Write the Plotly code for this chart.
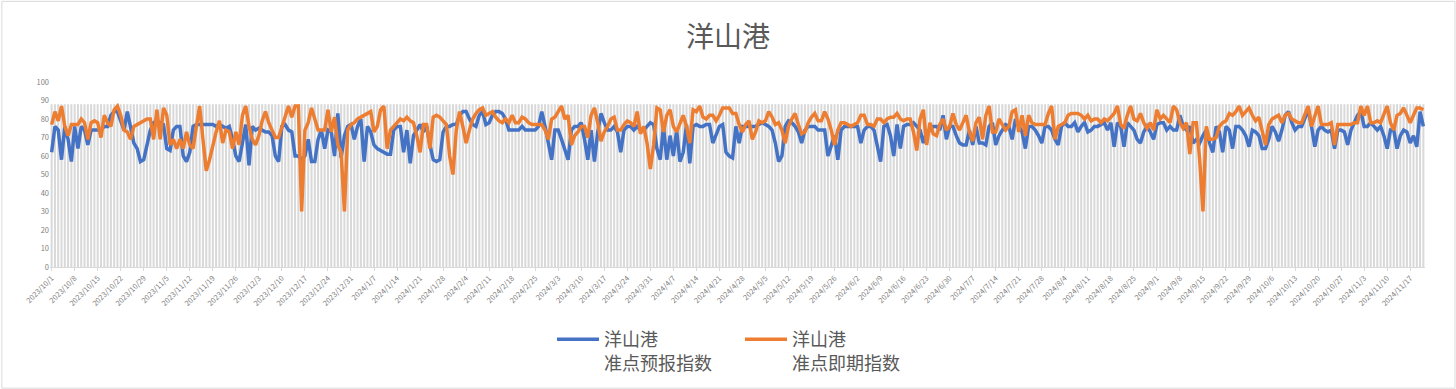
import pandas as pd
import plotly.graph_objects as go

# ---- data (daily, starting 2023/10/1) ----
forecast = [
    62,76,74,58,76,69,57,76,64,76,74,66,74,74,74,74,76,76,82,84,84,79,74,84,76,67,64,57,58,66,
    74,78,79,78,77,64,63,74,76,76,60,57,62,76,77,77,77,77,77,77,76,77,76,75,76,69,60,57,67,77,
    55,76,74,75,74,73,73,71,60,57,76,77,74,73,60,60,58,60,69,57,57,69,
    74,64,74,73,60,83,59,71,76,77,69,76,80,57,76,73,66,64,63,62,61,61,74,76,76,62,74,56,71,74,
    77,73,76,66,58,57,58,73,76,76,77,77,82,84,84,80,77,76,82,84,77,78,82,84,84,83,80,74,74,74,
    74,76,74,74,74,74,76,84,76,66,58,74,74,69,63,58,74,76,76,78,69,58,74,
    57,73,83,78,74,74,76,73,62,74,76,76,74,76,74,74,76,78,77,64,58,76,58,71,60,74,57,62,77,56,
    76,77,76,76,77,77,67,71,76,77,62,60,59,76,67,76,76,76,76,76,77,78,77,76,74,67,57,60,76,79,
    78,76,73,67,74,76,76,76,74,74,74,60,66,71,58,74,76,76,76,76,76,67,74,76,76,74,
    66,57,76,77,71,60,77,64,76,77,77,78,76,74,67,73,74,76,76,74,82,69,76,76,71,67,66,66,74,66,
    76,67,67,66,76,78,66,71,74,77,76,69,80,76,73,64,76,76,74,71,67,76,76,74,69,66,76,78,76,76,
    78,73,76,78,73,74,76,76,77,78,74,78,65,78,76,65,78,76,74,69,67,73,76,
    73,69,77,78,78,74,76,74,74,82,76,74,76,67,69,67,71,74,67,62,76,73,62,76,74,64,76,76,74,71,
    65,74,73,71,64,64,69,76,73,68,74,82,84,78,74,76,76,80,85,76,65,74,76,74,73,74,64,74,74,73,
    66,74,78,82,84,76,76,78,76,74,76,71,64,74,74,64,71,74,73,67,71,65,84,76,
]
realtime = [
    77,84,79,87,76,71,77,77,77,80,78,69,78,79,78,70,82,78,76,85,87,82,74,73,69,76,77,78,79,80,
    80,69,85,69,86,82,66,69,64,69,64,73,66,64,76,87,69,52,58,66,73,79,67,74,73,64,73,66,82,87,
    76,69,66,71,79,84,78,74,70,70,76,82,87,81,87,87,30,74,78,86,80,74,
    74,74,85,73,81,66,62,30,74,77,78,80,81,82,83,84,73,76,85,87,64,74,76,78,80,79,81,79,78,71,
    62,77,77,64,81,82,81,79,77,60,50,74,84,76,67,74,80,83,85,86,82,83,84,81,79,78,80,78,82,78,
    78,81,80,78,77,77,77,77,74,69,80,81,84,87,80,82,66,71,73,76,76,70,82,
    86,78,68,73,76,80,81,74,74,77,79,78,76,84,72,76,67,53,66,86,85,73,82,85,76,73,78,82,76,67,
    85,84,87,81,80,82,82,79,82,86,86,86,83,83,77,73,77,79,69,73,79,78,79,84,81,77,78,74,67,76,
    80,83,77,72,73,78,81,83,79,79,84,80,74,66,74,78,78,77,76,77,78,82,82,77,77,76,
    80,80,78,80,81,81,83,80,79,80,80,73,63,80,85,66,78,72,71,77,80,74,76,83,77,74,78,82,73,68,
    78,81,69,82,87,73,73,80,77,74,76,84,85,73,82,71,82,78,77,77,77,77,83,87,69,76,77,78,82,83,
    83,83,82,80,82,79,80,80,78,80,79,81,83,87,77,75,82,87,80,79,83,78,75,
    78,74,85,80,82,80,78,87,85,78,75,78,61,78,78,58,30,76,69,69,70,76,78,79,83,82,84,87,82,84,
    86,82,79,81,74,66,77,80,81,82,78,82,83,80,79,78,78,82,87,76,82,87,77,77,77,78,66,77,77,77,
    77,77,78,78,87,82,87,78,78,79,78,82,87,78,74,82,83,86,82,78,82,86,86,85,
]
bar_level = [88] * len(forecast)  # grey background columns, all at 88
start_date = "2023-10-01"

dates = [f"{d.year}/{d.month}/{d.day}" for d in pd.date_range(start_date, periods=len(forecast), freq="D")]
tick_vals = dates[::7]

fig = go.Figure()
fig.add_trace(go.Bar(x=dates, y=bar_level, marker=dict(color="#D9D9D9", line=dict(width=0)),
                     showlegend=False, hoverinfo="skip"))
fig.add_trace(go.Scatter(x=dates, y=forecast, mode="lines", name="洋山港<br>准点预报指数",
                         line=dict(color="#4472C4", width=3.5)))
fig.add_trace(go.Scatter(x=dates, y=realtime, mode="lines", name="洋山港<br>准点即期指数",
                         line=dict(color="#ED7D31", width=3.5)))

fig.update_layout(
    width=1456, height=389, autosize=False,
    margin=dict(l=50, r=31, t=82, b=122, autoexpand=False),
    paper_bgcolor="white", plot_bgcolor="white",
    font=dict(family="Noto Sans CJK SC", color="#595959"),
    bargap=0.38,
    title=dict(text="洋山港", x=0.5, xref="container", y=1 - 37 / 389, yref="container",
               xanchor="center", yanchor="middle", font=dict(size=28, color="#595959")),
    xaxis=dict(type="category", range=[-0.5, len(dates) - 0.5], tickmode="array",
               tickvals=tick_vals, ticktext=tick_vals, tickangle=-45, automargin=False,
               tickfont=dict(size=7.5, color="#7F7F7F"), showgrid=False,
               showline=True, linecolor="#D9D9D9", linewidth=1,
               ticks="outside", ticklen=3, tickcolor="#D9D9D9"),
    yaxis=dict(range=[0, 100], tickmode="linear", tick0=0, dtick=10, showgrid=False,
               automargin=False, zeroline=False, tickfont=dict(size=7.5, color="#7F7F7F"), ticks=""),
    legend=dict(orientation="h", x=552 / 1456, xref="container", xanchor="left",
                y=1 - 321 / 389, yref="container", yanchor="top", valign="top",
                font=dict(size=18, color="#595959"), itemwidth=42,
                entrywidth=131, bgcolor="rgba(0,0,0,0)"),
    shapes=[dict(type="rect", xref="paper", yref="paper", x0=-0.035, x1=1.0218,
                 y0=-0.655, y1=1.436, line=dict(color="#D9D9D9", width=1), layer="below")],
)

fig.write_html("out.html", config={"displayModeBar": False},
               post_script="document.body.style.margin='0';")
